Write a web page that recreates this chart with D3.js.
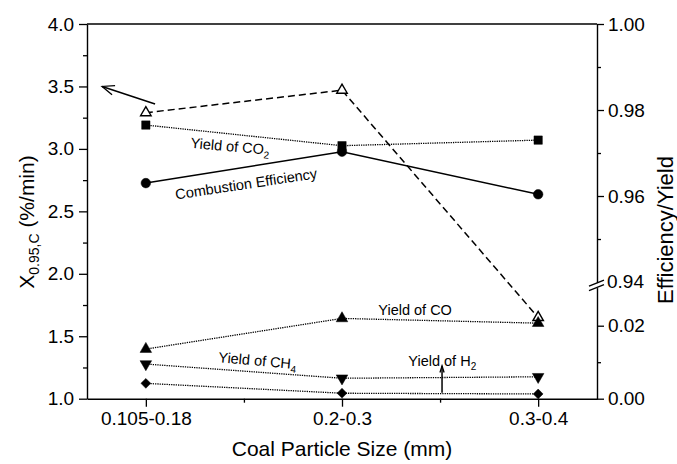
<!DOCTYPE html>
<html>
<head>
<meta charset="utf-8">
<script src="https://cdn.jsdelivr.net/npm/d3@7"></script>
<style>
  html, body { margin: 0; padding: 0; background: #fff; }
  svg { display: block; font-family: Arial, "Liberation Sans", Helvetica, sans-serif; }
</style>
</head>
<body>
<svg id="chart" width="677" height="464"></svg>
<script>
// Particle size classes (mm)
const categories = ["0.105-0.18", "0.2-0.3", "0.3-0.4"];

// Left axis: characteristic burnout rate X0.95,C (%/min)
const burnoutRate = [3.29, 3.47, 1.65];

// Right axis: efficiency and gas yields
const combustionEff = [0.9630, 0.9703, 0.9604];
const yieldCO2 = [0.9765, 0.9717, 0.9730];
const yieldCO = [0.0136, 0.0220, 0.0207];
const yieldCH4 = [0.0095, 0.0056, 0.0060];
const yieldH2 = [0.0042, 0.0015, 0.0013];

// Tick values
const leftMajor = [1.0, 1.5, 2.0, 2.5, 3.0, 3.5, 4.0];
const leftMinor = [1.25, 1.75, 2.25, 2.75, 3.25, 3.75];
const rightMajor = [0.00, 0.02, 0.96, 0.98, 1.00];
const rightMinor = [0.01, 0.95, 0.97, 0.99];
const rightBreakLabel = 0.94;

const margin = { top: 24, right: 80, bottom: 65.3, left: 87 };
const width = 677, height = 464;
const W = width - margin.left - margin.right;
const H = height - margin.top - margin.bottom;

const svg = d3.select("#chart");
const g = svg.append("g").attr("transform", `translate(${margin.left},${margin.top})`);

const x = d3.scaleLinear().domain([0.7, 3.3]).range([0, W]);
const xc = i => x(i + 1);
const yL = d3.scaleLinear().domain([1, 4]).range([H, 0]);
// Broken right axis: 0–0.03 below the break, 0.94–1.00 above it
const yR = d3.scaleLinear()
  .domain([0, 0.03, 0.94, 1.00])
  .range([H, H - H * 0.2922, H * 0.6886, 0]);

const ink = "#000";
const tickFont = 19;

// Frame top
g.append("line").attr("x1", 0).attr("x2", W).attr("y1", 0).attr("y2", 0)
  .attr("stroke", ink).attr("stroke-width", 1.4);

// Bottom axis
const xAxis = g.append("g").attr("transform", `translate(0,${H})`)
  .call(d3.axisBottom(x).tickValues([1, 2, 3]).tickSize(8).tickPadding(5).tickSizeOuter(0)
    .tickFormat(d => categories[d - 1]));
g.append("g").attr("transform", `translate(0,${H})`)
  .call(d3.axisBottom(x).tickValues([1.5, 2.5]).tickSize(4).tickSizeOuter(0).tickFormat(""))
  .select(".domain").remove();

// Left axis
const yAxisL = g.append("g")
  .call(d3.axisLeft(yL).tickValues(leftMajor).tickSize(8).tickSizeOuter(0)
    .tickFormat(d3.format(".1f")));
g.append("g")
  .call(d3.axisLeft(yL).tickValues(leftMinor).tickSize(4).tickSizeOuter(0).tickFormat(""))
  .select(".domain").remove();

// Right axis
const yAxisR = g.append("g").attr("transform", `translate(${W},0)`)
  .call(d3.axisRight(yR).tickValues(rightMajor).tickSize(7).tickSizeOuter(0)
    .tickFormat(d3.format(".2f")));
g.append("g").attr("transform", `translate(${W},0)`)
  .call(d3.axisRight(yR).tickValues(rightMinor).tickSize(4).tickSizeOuter(0).tickFormat(""))
  .select(".domain").remove();

g.selectAll(".domain").attr("stroke", ink).attr("stroke-width", 1.4);
g.selectAll(".tick line").attr("stroke", ink).attr("stroke-width", 1.3);
g.selectAll(".tick text").attr("fill", ink).attr("font-size", tickFont)
  .attr("font-family", "Arial, 'Liberation Sans', sans-serif");
yAxisL.selectAll(".tick text").attr("dx", "-0.1em");
yAxisR.selectAll(".tick text").attr("dx", "0.05em");

// Break on the right axis
const breakY = (yR(0.03) + yR(0.94)) / 2;
const brk = g.append("g").attr("transform", `translate(${W},${breakY})`);
brk.append("rect").attr("x", -3).attr("y", -2.5).attr("width", 6).attr("height", 5).attr("fill", "#fff");
brk.append("line").attr("x1", -8).attr("y1", 0.5).attr("x2", 7).attr("y2", -5.5)
  .attr("stroke", ink).attr("stroke-width", 1.2);
brk.append("line").attr("x1", -8).attr("y1", 5).attr("x2", 7).attr("y2", -1)
  .attr("stroke", ink).attr("stroke-width", 1.2);
g.append("text").attr("x", W + 10).attr("y", yR(rightBreakLabel)).attr("dy", "0.32em")
  .attr("font-size", tickFont).attr("fill", ink).text(d3.format(".2f")(rightBreakLabel));

// Series definitions
const series = [
  { vals: burnoutRate, scale: yL, dash: "7,4", width: 1.5, sym: d3.symbolTriangle, size: 48, open: true, rot: 0 },
  { vals: yieldCO2, scale: yR, dash: "1.3,1", width: 1.3, sym: d3.symbolSquare, size: 70, open: false, rot: 0 },
  { vals: combustionEff, scale: yR, dash: null, width: 1.5, sym: d3.symbolCircle, size: 72, open: false, rot: 0 },
  { vals: yieldCO, scale: yR, dash: "1.3,1", width: 1.3, sym: d3.symbolTriangle, size: 58, open: false, rot: 0 },
  { vals: yieldCH4, scale: yR, dash: "1.3,1", width: 1.3, sym: d3.symbolTriangle, size: 58, open: false, rot: 180 },
  { vals: yieldH2, scale: yR, dash: "1.3,1", width: 1.3, sym: d3.symbolSquare, size: 48, open: false, rot: 45 }
];

const lineGen = s => d3.line().x((d, i) => xc(i)).y(d => s.scale(d));

series.forEach(s => {
  g.append("path").datum(s.vals)
    .attr("d", lineGen(s))
    .attr("fill", "none").attr("stroke", ink)
    .attr("stroke-width", s.width)
    .attr("stroke-dasharray", s.dash);
});
series.forEach(s => {
  g.selectAll(null).data(s.vals).enter().append("path")
    .attr("d", d3.symbol().type(s.sym).size(s.size))
    .attr("transform", (d, i) => `translate(${xc(i)},${s.scale(d)}) rotate(${s.rot})`)
    .attr("fill", s.open ? "#fff" : ink)
    .attr("stroke", ink)
    .attr("stroke-width", s.open ? 1.4 : 0.5);
});

// Arrows
function arrow(x1, y1, x2, y2, len, spread) {
  const a = Math.atan2(y2 - y1, x2 - x1);
  g.append("line").attr("x1", x1).attr("y1", y1).attr("x2", x2).attr("y2", y2)
    .attr("stroke", ink).attr("stroke-width", 1.5);
  const p1 = [x2 - len * Math.cos(a - spread), y2 - len * Math.sin(a - spread)];
  const p2 = [x2 - len * Math.cos(a + spread), y2 - len * Math.sin(a + spread)];
  g.append("path")
    .attr("d", `M${p1[0]},${p1[1]}L${x2},${y2}L${p2[0]},${p2[1]}`)
    .attr("fill", "none").attr("stroke", ink).attr("stroke-width", 1.3);
}
// X0.95,C series refers to the left axis
arrow(x(1.047), yL(3.36), x(0.777), yL(3.50), 13, 0.38);
// Hydrogen label pointer
arrow(x(2.51), yR(0.0016), x(2.51), yR(0.0090), 7, 0.3);

// Series labels
function label(xv, yv, rot, main, sub) {
  const t = g.append("text")
    .attr("transform", `translate(${x(xv)},${yR(yv)}) rotate(${rot})`)
    .attr("font-size", 14.5).attr("fill", ink);
  t.append("tspan").text(main);
  if (sub) {
    t.append("tspan").attr("font-size", 10).attr("dy", 4).text(sub);
  }
}
label(1.226, 0.9712, 5, "Yield of CO", "2");
label(1.154, 0.9592, -8.5, "Combustion Efficiency", null);
label(2.185, 0.0229, 0, "Yield of CO", null);
label(1.368, 0.0100, 5, "Yield of CH", "4");
label(2.338, 0.0090, 0, "Yield of H", "2");

// Axis titles
svg.append("text")
  .attr("x", margin.left + W / 2).attr("y", 456)
  .attr("text-anchor", "middle").attr("font-size", 21).attr("fill", ink)
  .text("Coal Particle Size (mm)");

const lt = svg.append("text")
  .attr("transform", `translate(34,222) rotate(-90)`)
  .attr("text-anchor", "middle").attr("font-size", 21).attr("fill", ink);
lt.append("tspan").text("X");
lt.append("tspan").attr("font-size", 14).attr("dy", 5).text("0.95,C");
lt.append("tspan").attr("dy", -5).text(" (%/min)");

svg.append("text")
  .attr("transform", `translate(673,230) rotate(-90)`)
  .attr("text-anchor", "middle").attr("font-size", 22).attr("fill", ink)
  .text("Efficiency/Yield");
</script>
</body>
</html>
